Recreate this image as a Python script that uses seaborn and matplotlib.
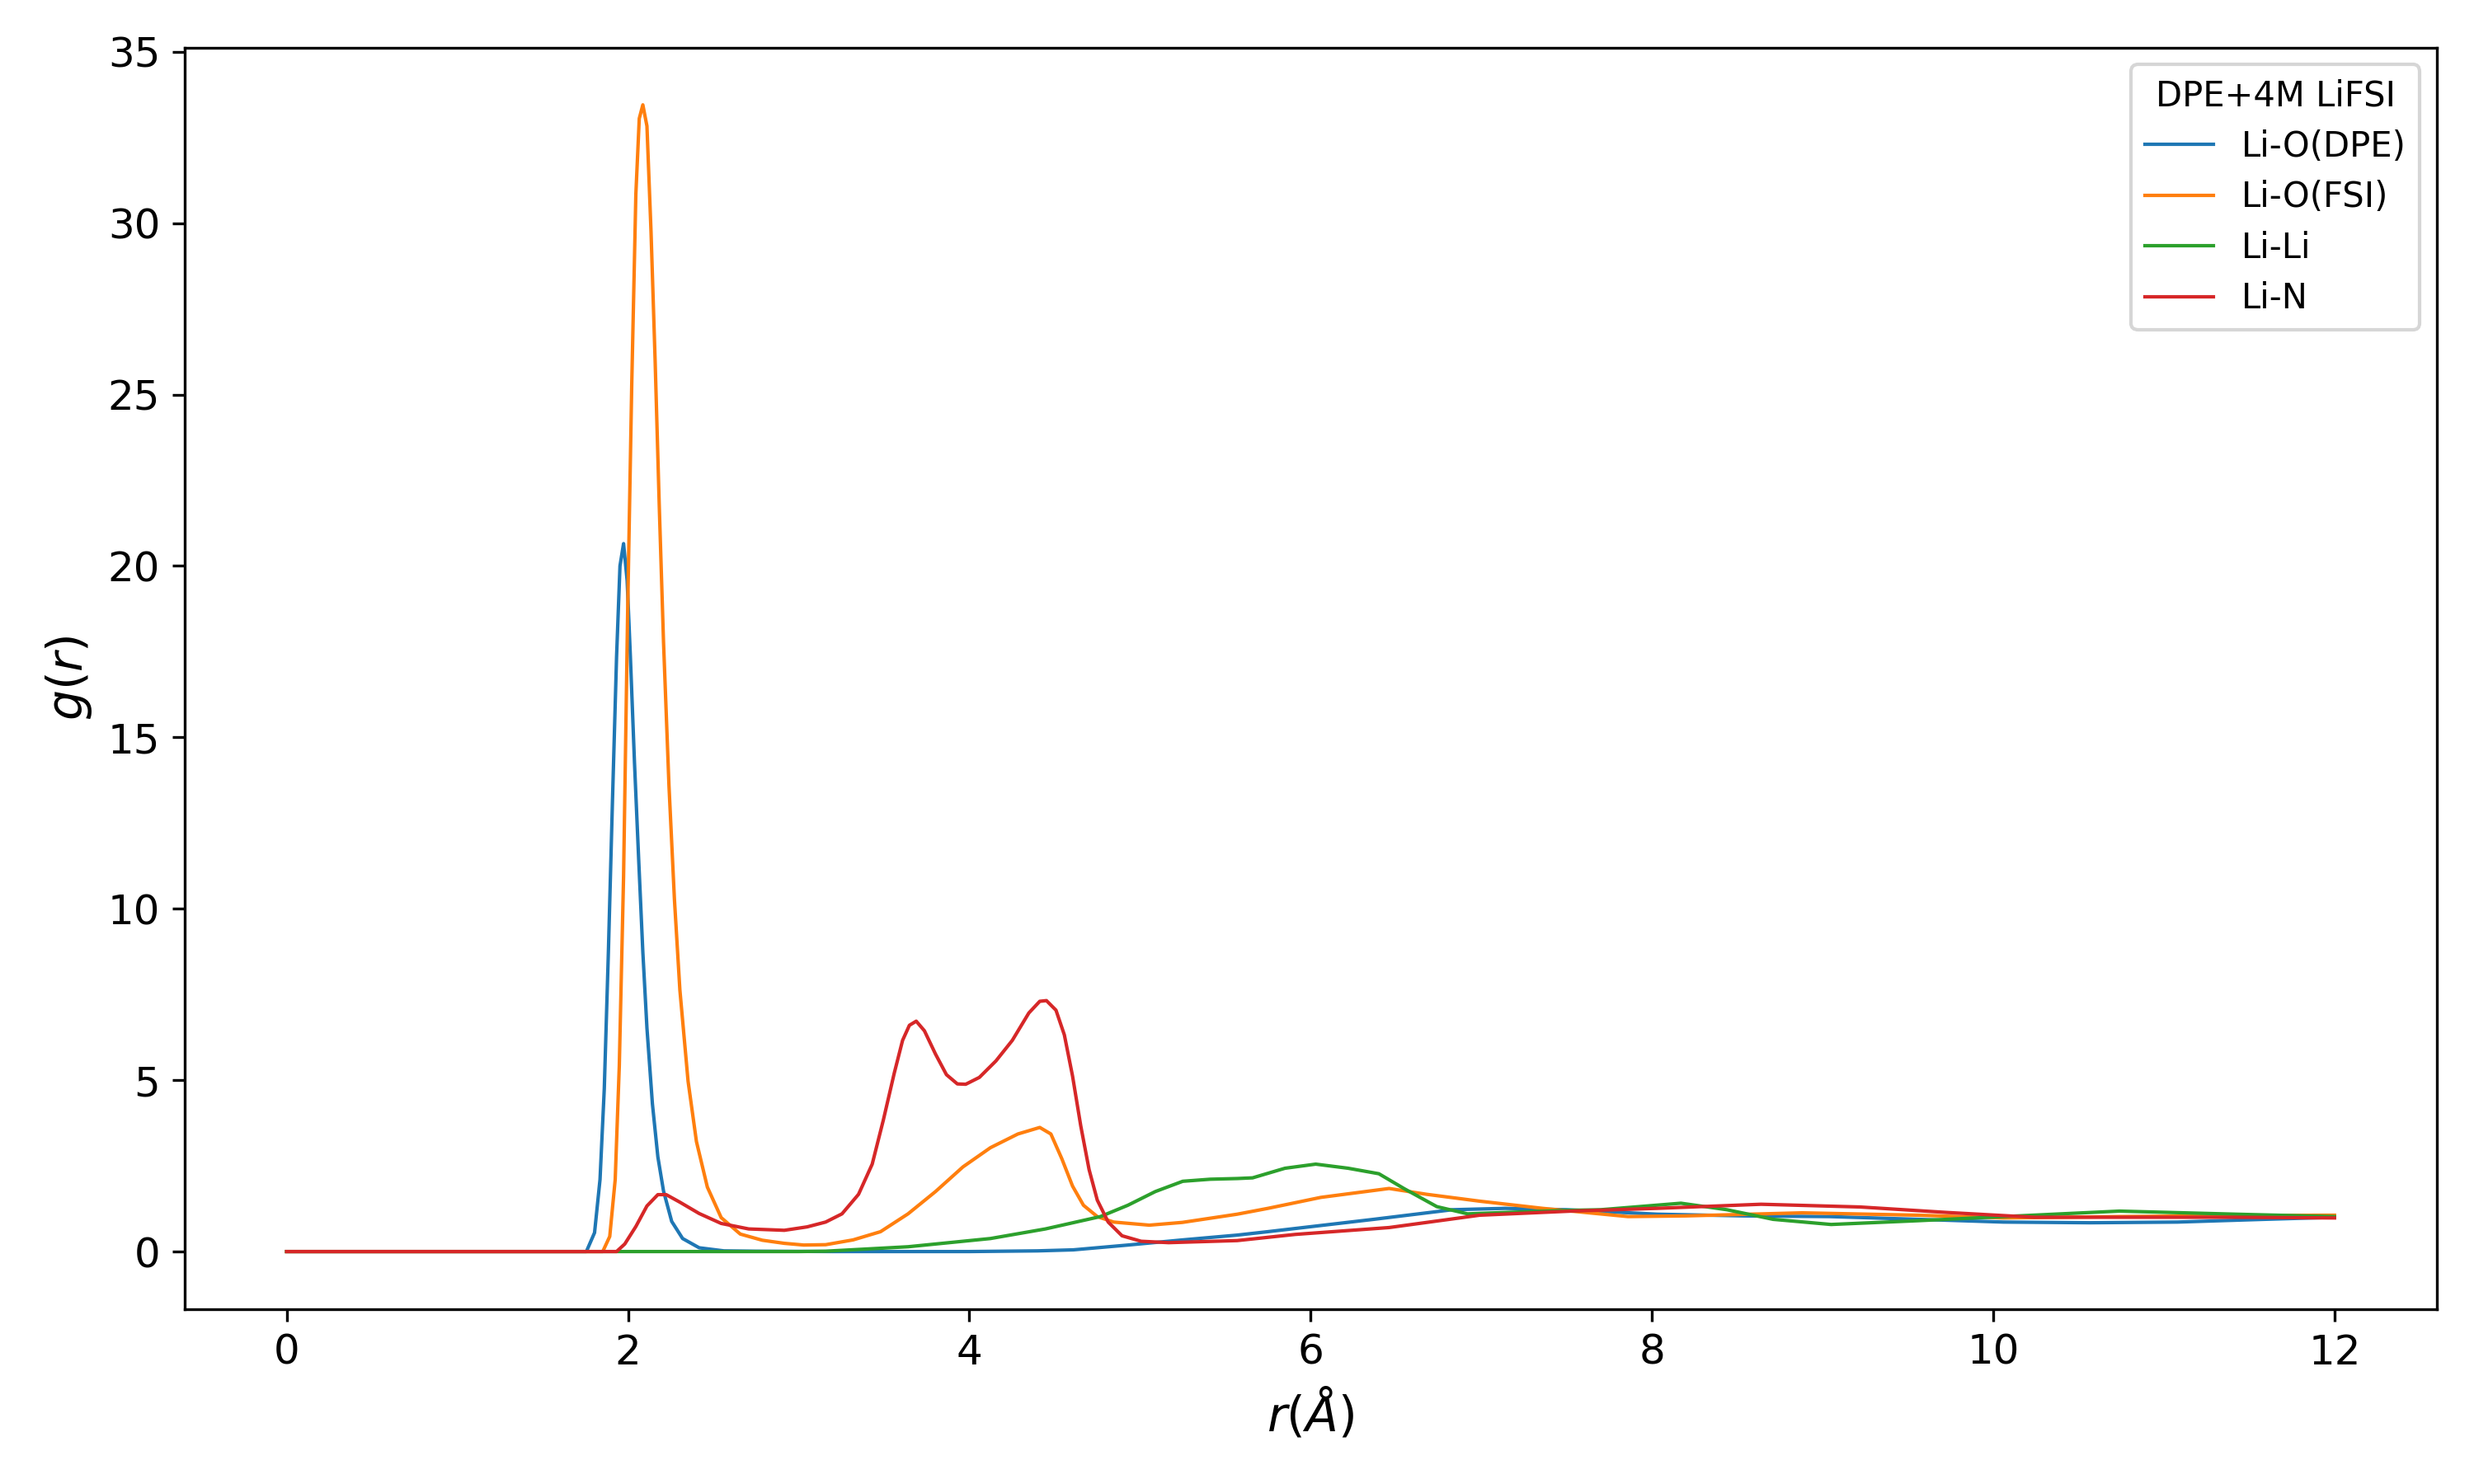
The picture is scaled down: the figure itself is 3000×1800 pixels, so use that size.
import matplotlib
matplotlib.use("Agg")
import matplotlib.pyplot as plt
import seaborn as sns
import pandas as pd

# ---- data ----
series_names = ["Li-O(DPE)", "Li-O(FSI)", "Li-Li", "Li-N"]
legend_title = "DPE+4M LiFSI"

r_dpe = [0, 1.70, 1.756, 1.804, 1.836, 1.861, 1.885, 1.909, 1.933, 1.953, 1.974,
         1.995, 2.014, 2.038, 2.063, 2.087, 2.111, 2.143, 2.175, 2.208, 2.256,
         2.320, 2.417, 2.562, 2.75, 3.2, 4.0, 4.40, 4.61, 4.93, 5.25, 5.57, 5.75,
         6.37, 6.83, 7.14, 7.50, 8.03, 8.54, 9.04, 9.56, 10.06, 10.57, 11.08,
         11.59, 12.0]
g_dpe = [0, 0, 0, 0.55, 2.10, 4.75, 8.73, 13.15, 17.35, 20.0, 20.65,
         19.57, 17.35, 14.26, 11.39, 8.73, 6.52, 4.31, 2.76, 1.77, 0.88,
         0.38, 0.11, 0.02, 0.01, 0.0, 0.0, 0.02, 0.05, 0.19, 0.34, 0.48, 0.58,
         0.94, 1.22, 1.26, 1.22, 1.09, 1.04, 1.02, 0.94, 0.86, 0.84, 0.86,
         0.94, 1.0]

r_fsi = [0, 1.80, 1.852, 1.893, 1.925, 1.949, 1.974, 1.998, 2.022, 2.046, 2.066,
         2.087, 2.111, 2.135, 2.159, 2.183, 2.208, 2.240, 2.272, 2.304, 2.352,
         2.401, 2.465, 2.546, 2.658, 2.787, 2.916, 3.03, 3.158, 3.319, 3.480,
         3.641, 3.802, 3.963, 4.124, 4.285, 4.413, 4.478, 4.542, 4.605, 4.669,
         4.750, 4.846, 5.055, 5.248, 5.570, 5.75, 6.06, 6.46, 6.68, 6.99, 7.36,
         7.86, 8.20, 8.88, 9.56, 10.06, 10.74, 11.42, 12.0]
g_fsi = [0, 0, 0, 0.44, 2.10, 5.42, 10.94, 18.68, 25.31, 30.84, 33.05,
         33.45, 32.83, 29.74, 25.98, 21.78, 17.80, 13.60, 10.28, 7.63, 4.97,
         3.21, 1.88, 0.99, 0.51, 0.33, 0.24, 0.19, 0.20, 0.34, 0.58,
         1.10, 1.75, 2.47, 3.03, 3.43, 3.62, 3.43, 2.71, 1.91, 1.35,
         1.02, 0.86, 0.77, 0.85, 1.09, 1.26, 1.58, 1.84, 1.67, 1.47, 1.26,
         1.02, 1.04, 1.13, 1.06, 0.98, 1.02, 1.05, 1.06]

r_lili = [0, 3.0, 3.158, 3.641, 4.124, 4.446, 4.768, 4.929, 5.090, 5.251, 5.412,
          5.57, 5.66, 5.85, 6.03, 6.22, 6.40, 6.55, 6.74, 6.92, 7.14, 7.50, 7.70,
          8.17, 8.44, 8.71, 9.05, 9.56, 10.06, 10.74, 11.42, 12.0]
g_lili = [0, 0, 0.01, 0.14, 0.38, 0.66, 1.02, 1.35, 1.75, 2.05, 2.11,
          2.13, 2.15, 2.43, 2.55, 2.43, 2.27, 1.83, 1.31, 1.10, 1.14, 1.20, 1.22,
          1.41, 1.22, 0.94, 0.79, 0.90, 1.02, 1.18, 1.09, 1.02]

r_lin = [0, 1.90, 1.933, 1.981, 2.046, 2.111, 2.175, 2.224, 2.304, 2.417, 2.546,
         2.707, 2.916, 3.05, 3.158, 3.254, 3.351, 3.431, 3.496, 3.560, 3.609,
         3.649, 3.689, 3.737, 3.802, 3.866, 3.930, 3.979, 4.059, 4.156, 4.252,
         4.349, 4.413, 4.452, 4.508, 4.557, 4.605, 4.653, 4.702, 4.750, 4.814,
         4.895, 5.007, 5.168, 5.570, 5.91, 6.46, 6.99, 7.53, 8.03, 8.64, 9.22,
         9.73, 10.24, 10.74, 11.42, 12.0]
g_lin = [0, 0, 0, 0.22, 0.73, 1.33, 1.66, 1.66, 1.44, 1.11, 0.82,
         0.66, 0.62, 0.72, 0.86, 1.10, 1.67, 2.55, 3.83, 5.20, 6.16,
         6.60, 6.72, 6.44, 5.76, 5.16, 4.89, 4.88, 5.08, 5.56, 6.16,
         6.96, 7.30, 7.32, 7.04, 6.32, 5.12, 3.67, 2.39, 1.50, 0.86,
         0.46, 0.30, 0.26, 0.32, 0.50, 0.70, 1.06, 1.18, 1.26, 1.38, 1.30,
         1.14, 1.00, 1.00, 1.00, 0.98]

frames = []
for name, rr, gg in zip(series_names, [r_dpe, r_fsi, r_lili, r_lin],
                        [g_dpe, g_fsi, g_lili, g_lin]):
    frames.append(pd.DataFrame({"r": rr, "g": gg, "pair": name}))
df = pd.concat(frames, ignore_index=True)

palette = ["#1f77b4", "#ff7f0e", "#2ca02c", "#d62728"]

fig, ax = plt.subplots(figsize=(10, 6), dpi=300)
fig.subplots_adjust(left=0.0745, right=0.985, top=0.968, bottom=0.118)

sns.lineplot(data=df, x="r", y="g", hue="pair", hue_order=series_names,
             palette=palette, linewidth=1, estimator=None, sort=False, ax=ax)

ax.set_xlabel(r"$r(\AA)$", fontsize=14)
ax.set_ylabel(r"$g(r)$", fontsize=14)
ax.tick_params(labelsize=12)
ax.set_xticks([0, 2, 4, 6, 8, 10, 12])
ax.set_yticks([0, 5, 10, 15, 20, 25, 30, 35])

leg = ax.legend(title=legend_title, loc="upper right", fontsize=10,
                title_fontsize=10, labelspacing=0.47)

fig.savefig("out.png", dpi=300)
